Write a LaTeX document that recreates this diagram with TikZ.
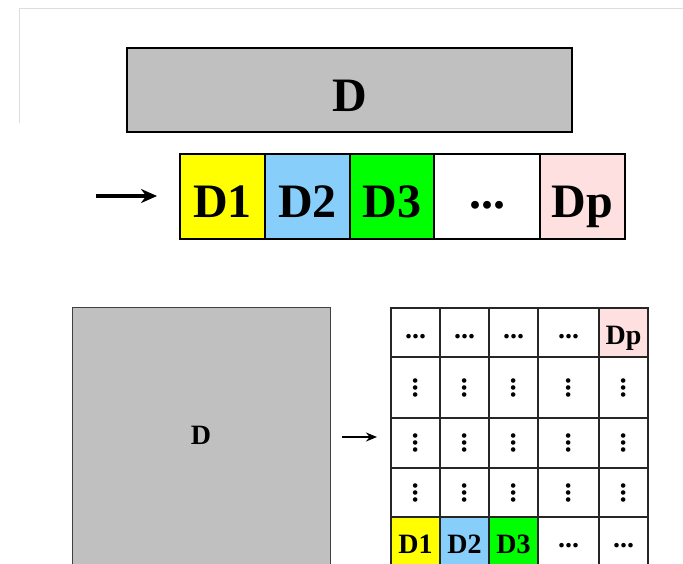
\documentclass[tikz,border=0pt]{standalone}
\usepackage{fontspec}
\setmainfont{Liberation Serif}
\usetikzlibrary{arrows.meta}
\definecolor{boxgray}{HTML}{C0C0C0}
\definecolor{cyel}{HTML}{FFFF00}
\definecolor{cblue}{HTML}{87CEFA}
\definecolor{cgreen}{HTML}{00FF00}
\definecolor{cpink}{HTML}{FFE0E0}
\definecolor{frame}{HTML}{DDDDDD}
\begin{document}
\begin{tikzpicture}[x=1pt,y=-1pt,
  bigbox/.style={draw=black, line width=2pt, inner sep=0pt, anchor=center,
    font=\fontsize{48}{48}\selectfont\bfseries, text height=42pt, text depth=0pt},
  bigdots/.style={bigbox, text height=23pt},
  cell/.style={draw=black!85, line width=1.1pt, inner sep=0pt, anchor=center,
    font=\fontsize{28}{28}\selectfont\bfseries, text height=24.5pt, text depth=0pt},
  celldots/.style={cell, text height=12.5pt},
  vdots/.style={rotate=90, inner sep=0pt, font=\fontsize{28}{28}\selectfont\bfseries},
  arr/.style={-{Stealth[length=16pt,width=14pt]}, line width=3.2pt},
  arrsmall/.style={-{Stealth[length=11pt,width=9pt]}, line width=2pt}
]
\useasboundingbox (0,0) rectangle (683,563);
\clip (0,0) rectangle (683,563);
% faint screenshot frame
\draw[frame, line width=1pt] (19,123) -- (19,8) -- (690,8);

% top block D
\node[bigbox, fill=boxgray, minimum width=445pt, minimum height=84pt] (Dtop) at (349.5,90) {D};

% partitioned row
\node[bigbox, fill=cyel, minimum width=85pt, minimum height=85pt] (r1) at (222.5,196.5) {D1};
\node[bigbox, fill=cblue, minimum width=85pt, minimum height=85pt] (r2) at (307.5,196.5) {D2};
\node[bigbox, fill=cgreen, minimum width=84pt, minimum height=85pt] (r3) at (392,196.5) {D3};
\node[bigdots, fill=white, minimum width=106pt, minimum height=85pt] (r4) at (487,196.5) {...};
\node[bigbox, fill=cpink, minimum width=85pt, minimum height=85pt] (r5) at (582.5,196.5) {Dp};

\coordinate (a1s) at (96,196);
\coordinate (a1e) at (157,196);
\draw[arr] (a1s) -- (a1e);

% bottom square D
\node[draw=black!75, line width=1pt, fill=boxgray, inner sep=0pt,
  minimum width=258pt, minimum height=257pt,
  font=\fontsize{28}{28}\selectfont\bfseries] (Dsq) at (201,435.5) {D};

\coordinate (a2s) at (342,437);
\coordinate (a2e) at (377,437);
\draw[arrsmall] (a2s) -- (a2e);

% grid: columns 391,440,489,538,599,648 ; rows 308,357,418,468,517,566
% row 1
\node[celldots, minimum width=49pt, minimum height=49pt] (g11) at (415.5,332.5) {...};
\node[celldots, minimum width=49pt, minimum height=49pt] (g12) at (464.5,332.5) {...};
\node[celldots, minimum width=49pt, minimum height=49pt] (g13) at (513.5,332.5) {...};
\node[celldots, minimum width=61pt, minimum height=49pt] (g14) at (568.5,332.5) {...};
\node[cell, fill=cpink, minimum width=49pt, minimum height=49pt] (g15) at (623.5,332.5) {Dp};
% rows 2-4 (vertical dots)
\foreach \r/\yc/\h in {2/387.5/61, 3/443/50, 4/492.5/49}{
  \node[cell, minimum width=49pt, minimum height=\h pt] (g\r1) at (415.5,\yc) {};
  \node[cell, minimum width=49pt, minimum height=\h pt] (g\r2) at (464.5,\yc) {};
  \node[cell, minimum width=49pt, minimum height=\h pt] (g\r3) at (513.5,\yc) {};
  \node[cell, minimum width=61pt, minimum height=\h pt] (g\r4) at (568.5,\yc) {};
  \node[cell, minimum width=49pt, minimum height=\h pt] (g\r5) at (623.5,\yc) {};
  \foreach \c in {1,...,5}{
    \node[vdots] (v\r\c) at (g\r\c.center) {...};
  }
}
% row 5
\node[cell, fill=cyel, minimum width=49pt, minimum height=49pt] (g51) at (415.5,541.5) {D1};
\node[cell, fill=cblue, minimum width=49pt, minimum height=49pt] (g52) at (464.5,541.5) {D2};
\node[cell, fill=cgreen, minimum width=49pt, minimum height=49pt] (g53) at (513.5,541.5) {D3};
\node[celldots, minimum width=61pt, minimum height=49pt] (g54) at (568.5,541.5) {...};
\node[celldots, minimum width=49pt, minimum height=49pt] (g55) at (623.5,541.5) {...};
\end{tikzpicture}
\end{document}
